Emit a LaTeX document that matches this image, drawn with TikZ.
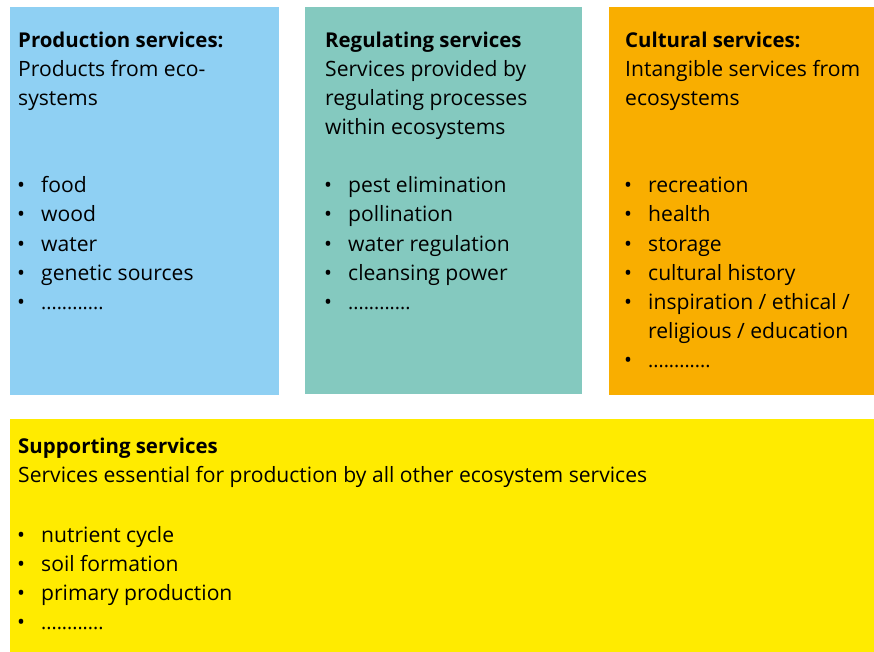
\documentclass[tikz,border=0pt]{standalone}
\usepackage{fontspec}
\setmainfont{Open Sans}
\definecolor{cblue}{HTML}{8FD0F3}
\definecolor{cteal}{HTML}{84C9BF}
\definecolor{corange}{HTML}{F9AE00}
\definecolor{cyellow}{HTML}{FFEB00}
\newcommand\mydotrow{{\fontsize{19.5}{29}\selectfont............}}
\begin{document}
\begin{tikzpicture}[x=1pt,y=-1pt,
  panel/.style={anchor=north west, inner sep=0, draw=none, minimum width=#1},
  txt/.style={anchor=base west, inner sep=0, font=\fontsize{21.1}{29}\selectfont},
  ttl/.style={txt, font=\fontsize{20.4}{29}\selectfont\bfseries},
  blt/.style={anchor=base, inner sep=0, font=\fontsize{21.1}{29}\selectfont}]
\useasboundingbox (0,0) rectangle (874,652);
% panels
\node[panel=269pt, fill=cblue, minimum height=388pt] (prod) at (10,7) {};
\node[panel=277pt, fill=cteal, minimum height=387pt] (reg) at (305,7) {};
\node[panel=265pt, fill=corange, minimum height=388pt] (cult) at (609,7) {};
\node[panel=864pt, fill=cyellow, minimum height=233pt] (supp) at (10,419) {};
% production
\node[ttl] (prodT) at (18,48) {Production services:};
\node[txt] (prodD1) at (18,77) {Products from eco-};
\node[txt] (prodD2) at (18,106) {systems};
\foreach \t [count=\i] in {food, wood, water, genetic sources, \mydotrow}{
  \node[blt] (prodB\i) at (21,{193+29*(\i-1)}) {•};
  \node[txt] (prodL\i) at (41,{193+29*(\i-1)}) {\t};
}
% regulating
\node[ttl] (regT) at (325,48) {Regulating services};
\node[txt] (regD1) at (325,77) {Services provided by};
\node[txt] (regD2) at (325,106) {regulating processes};
\node[txt] (regD3) at (325,135) {within ecosystems};
\foreach \t [count=\i] in {pest elimination, pollination, water regulation, cleansing power, \mydotrow}{
  \node[blt] (regB\i) at (328,{193+29*(\i-1)}) {•};
  \node[txt] (regL\i) at (348,{193+29*(\i-1)}) {\t};
}
% cultural
\node[ttl] (cultT) at (625,48) {Cultural services:};
\node[txt] (cultD1) at (625,77) {Intangible services from};
\node[txt] (cultD2) at (625,106) {ecosystems};
\foreach \t [count=\i] in {recreation, health, storage, cultural history, inspiration / ethical /}{
  \node[blt] (cultB\i) at (628,{193+29*(\i-1)}) {•};
  \node[txt] (cultL\i) at (648,{193+29*(\i-1)}) {\t};
}
\node[txt] (cultL6) at (648,338) {religious / education};
\node[blt] (cultB7) at (628,367) {•};
\node[txt] (cultL7) at (648,367) {\mydotrow};
% supporting
\node[ttl] (suppT) at (18,453) {Supporting services};
\node[txt] (suppD1) at (18,482) {Services essential for production by all other ecosystem services};
\foreach \t [count=\i] in {nutrient cycle, soil formation, primary production, \mydotrow}{
  \node[blt] (suppB\i) at (21,{542+29*(\i-1)}) {•};
  \node[txt] (suppL\i) at (41,{542+29*(\i-1)}) {\t};
}
\end{tikzpicture}
\end{document}
